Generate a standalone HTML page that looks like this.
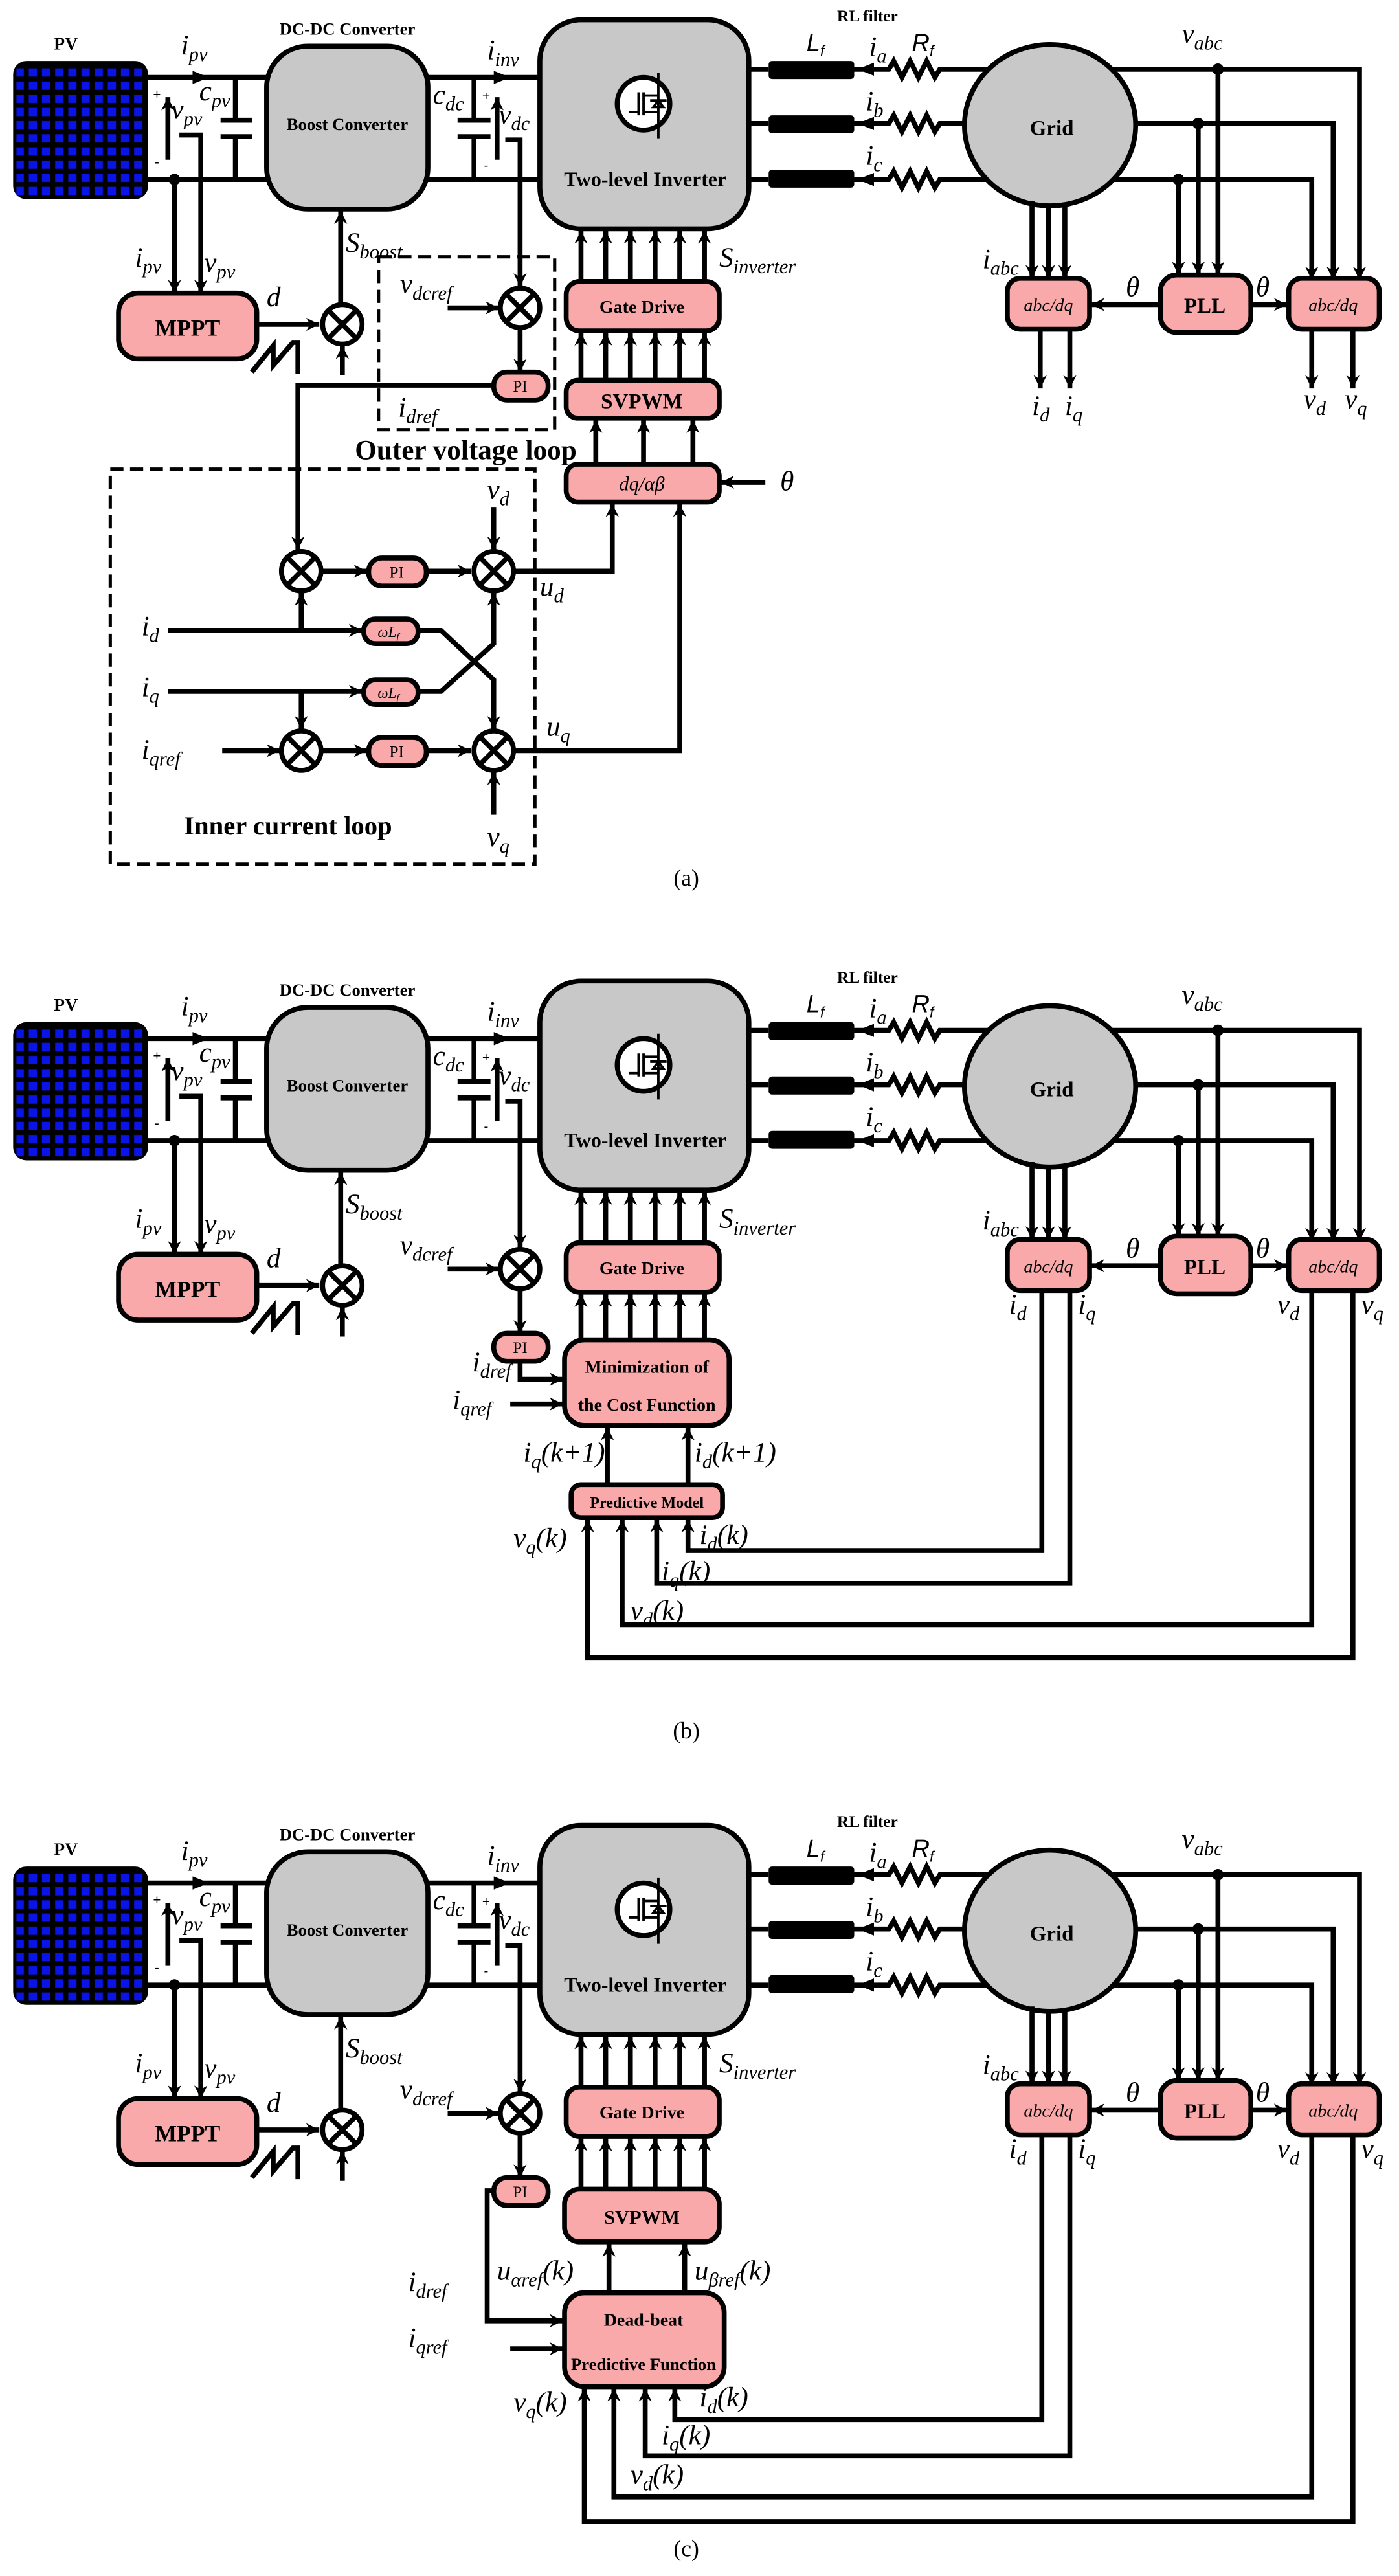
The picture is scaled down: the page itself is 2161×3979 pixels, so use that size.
<!DOCTYPE html>
<html><head><meta charset="utf-8">
<style>
html,body{margin:0;padding:0;background:#fff;}
svg{display:block;}
.w{stroke:#000;stroke-width:3;fill:none;}
.b{font-family:"Liberation Serif",serif;font-weight:bold;fill:#000;}
.m{font-family:"Liberation Serif",serif;font-style:italic;font-size:17px;fill:#000;}
.s{font-size:12px;}
.bx{fill:#f9a9a9;stroke:#000;stroke-width:3;}
.gr{fill:#c8c8c8;stroke:#000;stroke-width:3;}
.c{fill:#fff;stroke:#000;stroke-width:3;}
.sg{font-family:"Liberation Sans",sans-serif;font-size:8px;fill:#000;}
</style></head>
<body>
<svg width="2161" height="3979" viewBox="0 0 850 1565" xmlns="http://www.w3.org/2000/svg">
<defs>
<marker id="ah" viewBox="0 0 10 10" refX="10" refY="5" markerWidth="8" markerHeight="8" markerUnits="userSpaceOnUse" orient="auto"><path d="M0,0 L10,5 L0,10 L3,5 z" fill="#000"/></marker>
<pattern id="pv" width="8" height="8" patternUnits="userSpaceOnUse"><rect x="1.5" y="1.5" width="5" height="5" fill="#0a14e6"/></pattern>
</defs>
<rect width="850" height="1565" fill="#fff"/>

<g id="topA">
<rect x="8" y="37" width="82" height="84" rx="8" fill="#000"/>
<rect x="10" y="39" width="78" height="80" fill="url(#pv)"/>
<text x="40" y="30" class="b" font-size="11" text-anchor="middle">PV</text>
<text x="211" y="21" class="b" font-size="10.5" text-anchor="middle">DC-DC Converter</text>
<text x="527" y="13" class="b" font-size="10" text-anchor="middle">RL filter</text>
<path class="w" d="M90,47H162 M90,109H162 M143,47V73 M143,83V109 M134,73H153 M134,83H153"/>
<polygon points="117,43 127,47 117,51" fill="#000"/>
<text x="110" y="33" class="m">i<tspan class="s" dy="4">pv</tspan></text>
<text x="93" y="60" class="sg" font-size="10">+</text><text x="94" y="101" class="sg" font-size="10">-</text>
<line class="w" x1="102" y1="97" x2="102" y2="59" marker-end="url(#ah)"/>
<text x="104" y="72" class="m">v<tspan class="s" dy="4">pv</tspan></text>
<text x="121" y="61" class="m">c<tspan class="s" dy="4">pv</tspan></text>
<circle cx="106" cy="109" r="3.5" fill="#000"/>
<line class="w" x1="106" y1="109" x2="106" y2="178" marker-end="url(#ah)"/>
<path class="w" d="M109,82H122V178" marker-end="url(#ah)"/>
<text x="82" y="162" class="m">i<tspan class="s" dy="4">pv</tspan></text>
<text x="124" y="165" class="m">v<tspan class="s" dy="4">pv</tspan></text>
<rect x="162" y="28" width="98" height="99" rx="25" class="gr"/>
<text x="211" y="79" class="b" font-size="10.5" text-anchor="middle">Boost Converter</text>
<path class="w" d="M260,47H328 M260,109H328 M288,47V73 M288,83V109 M278,73H298 M278,83H298"/>
<polygon points="300,43 310,47 300,51" fill="#000"/>
<text x="296" y="36" class="m">i<tspan class="s" dy="4">inv</tspan></text>
<text x="263" y="63" class="m">c<tspan class="s" dy="4">dc</tspan></text>
<text x="293" y="61" class="sg" font-size="10">+</text><text x="294" y="103" class="sg" font-size="10">-</text>
<line class="w" x1="302" y1="97" x2="302" y2="59" marker-end="url(#ah)"/>
<text x="303" y="75" class="m">v<tspan class="s" dy="4">dc</tspan></text>
<path class="w" d="M307,85H316V174" marker-end="url(#ah)"/>
<rect x="328" y="12" width="127" height="127" rx="25" class="gr"/>
<circle cx="391" cy="63" r="16" class="c"/>
<path d="M400,44V84 M382,68H388 M388,56V70 M391,56V70 M391,58H400 M391,68H400 M395,61H405 M397,65L400,61L403,65Z" stroke="#000" stroke-width="1.5" fill="none"/>
<text x="392" y="113" class="b" font-size="12.5" text-anchor="middle">Two-level Inverter</text>
<rect x="344" y="171" width="93" height="30" rx="8" class="bx"/>
<text x="390" y="190" class="b" font-size="11" text-anchor="middle">Gate Drive</text>
<g class="w" marker-end="url(#ah)">
<line x1="353" y1="171" x2="353" y2="140"/><line x1="368" y1="171" x2="368" y2="140"/><line x1="383" y1="171" x2="383" y2="140"/><line x1="398" y1="171" x2="398" y2="140"/><line x1="413" y1="171" x2="413" y2="140"/><line x1="428" y1="171" x2="428" y2="140"/>
</g>
<text x="437" y="162" class="m" font-size="19">S<tspan class="s" font-size="13" dy="4">inverter</tspan></text>
<text x="210" y="153" class="m" font-size="19">S<tspan class="s" font-size="13" dy="4">boost</tspan></text>
<line class="w" x1="207" y1="184" x2="207" y2="128" marker-end="url(#ah)"/>
<rect x="72" y="178" width="84" height="40" rx="12" class="bx"/>
<text x="114" y="204" class="b" font-size="14" text-anchor="middle">MPPT</text>
<text x="162" y="186" class="m">d</text>
<line class="w" x1="156" y1="197" x2="194" y2="197" marker-end="url(#ah)"/>
<circle cx="208" cy="197" r="12" class="c"/>
<path d="M200,189L216,205M216,189L200,205" stroke="#000" stroke-width="3"/>
<line class="w" x1="208" y1="228" x2="208" y2="210" marker-end="url(#ah)"/>
<polyline points="153,226 166,210 166,222 178,208 181,208 181,227" stroke="#000" stroke-width="3" fill="none"/>
<text x="243" y="178" class="m">v<tspan class="s" dy="4">dcref</tspan></text>
<line class="w" x1="272" y1="187" x2="303" y2="187" marker-end="url(#ah)"/>
<circle cx="316" cy="187" r="12" class="c"/>
<path d="M308,179L324,195M324,179L308,195" stroke="#000" stroke-width="3"/>
<line class="w" x1="316" y1="200" x2="316" y2="226" marker-end="url(#ah)"/>
<rect x="300" y="226" width="33" height="17" rx="8" class="bx"/>
<text x="316" y="238" font-family="Liberation Serif" font-size="10" text-anchor="middle">PI</text>
<path class="w" d="M455,42H467 M455,75H467 M455,109H467"/>
<rect x="467" y="37" width="52" height="11" rx="2" fill="#000"/><rect x="467" y="70" width="52" height="11" rx="2" fill="#000"/><rect x="467" y="103" width="52" height="11" rx="2" fill="#000"/>
<path class="w" d="M519,42H540l3,-5l5,10l5,-10l5,10l5,-10l5,10l3,-5H601 M519,75H540l3,-5l5,10l5,-10l5,10l5,-10l5,10l3,-5H588 M519,109H540l3,-5l5,10l5,-10l5,10l5,-10l5,10l3,-5H601" stroke-width="2.5"/>
<polygon points="521,42 531,38 531,46" fill="#000"/><polygon points="521,75 531,71 531,79" fill="#000"/><polygon points="521,109 531,105 531,113" fill="#000"/>
<text x="490" y="31" font-family="Liberation Sans" font-style="italic" font-size="15">L<tspan font-size="9" dy="3">f</tspan></text>
<text x="528" y="34" class="m">i<tspan class="s" dy="4">a</tspan></text>
<text x="554" y="31" font-family="Liberation Sans" font-style="italic" font-size="15">R<tspan font-size="9" dy="3">f</tspan></text>
<text x="526" y="67" class="m">i<tspan class="s" dy="4">b</tspan></text>
<text x="526" y="100" class="m">i<tspan class="s" dy="4">c</tspan></text>
<ellipse cx="638" cy="76" rx="52" ry="49" class="gr"/>
<text x="639" y="82" class="b" font-size="13" text-anchor="middle">Grid</text>
<text x="718" y="26" class="m" font-size="18">v<tspan class="s" font-size="13" dy="4">abc</tspan></text>
<path class="w" d="M676,42H826V170" marker-end="url(#ah)"/>
<path class="w" d="M690,75H810V170" marker-end="url(#ah)"/>
<path class="w" d="M676,109H797V170" marker-end="url(#ah)"/>
<circle cx="740" cy="42" r="3.5"/><circle cx="728" cy="75" r="3.5"/><circle cx="716" cy="109" r="3.5"/>
<g class="w" marker-end="url(#ah)">
<line x1="740" y1="42" x2="740" y2="167"/><line x1="728" y1="75" x2="728" y2="167"/><line x1="716" y1="109" x2="716" y2="167"/>
<line x1="627" y1="122" x2="627" y2="169"/><line x1="637" y1="125" x2="637" y2="169"/><line x1="647" y1="123" x2="647" y2="169"/>
<line x1="705" y1="185" x2="663" y2="185"/><line x1="760" y1="185" x2="782" y2="185"/>
</g>
<text x="597" y="163" class="m">i<tspan class="s" dy="4">abc</tspan></text>
<rect x="705" y="167" width="55" height="35" rx="10" class="bx"/>
<text x="732" y="190" class="b" font-size="13" text-anchor="middle">PLL</text>
<rect x="612" y="169" width="50" height="31" rx="8" class="bx"/>
<text x="637" y="189" font-family="Liberation Serif" font-style="italic" font-size="11" text-anchor="middle">abc/dq</text>
<rect x="783" y="169" width="55" height="31" rx="8" class="bx"/>
<text x="810" y="189" font-family="Liberation Serif" font-style="italic" font-size="11" text-anchor="middle">abc/dq</text>
<text x="684" y="180" class="m" font-size="15">θ</text>
<text x="763" y="180" class="m" font-size="15">θ</text>
</g>

<g>
<g class="w" marker-end="url(#ah)">
<line x1="632" y1="200" x2="632" y2="236"/><line x1="650" y1="200" x2="650" y2="236"/>
<line x1="797" y1="200" x2="797" y2="236"/><line x1="822" y1="200" x2="822" y2="236"/>
</g>
<text x="627" y="252" class="m">i<tspan class="s" dy="4">d</tspan></text>
<text x="647" y="252" class="m">i<tspan class="s" dy="4">q</tspan></text>
<text x="792" y="248" class="m">v<tspan class="s" dy="4">d</tspan></text>
<text x="817" y="248" class="m">v<tspan class="s" dy="4">q</tspan></text>
<rect x="230" y="156" width="107" height="105" fill="none" stroke="#000" stroke-width="2" stroke-dasharray="8,4"/>
<text x="283" y="279" class="b" font-size="17" text-anchor="middle">Outer voltage loop</text>
<text x="242" y="253" class="m">i<tspan class="s" dy="4">dref</tspan></text>
<rect x="344" y="231" width="93" height="23" rx="7" class="bx"/>
<text x="390" y="248" class="b" font-size="13" text-anchor="middle">SVPWM</text>
<rect x="344" y="282" width="93" height="23" rx="7" class="bx"/>
<text x="390" y="298" font-family="Liberation Serif" font-style="italic" font-size="12" text-anchor="middle">dq/αβ</text>
<g class="w" marker-end="url(#ah)">
<line x1="353" y1="231" x2="353" y2="202"/><line x1="368" y1="231" x2="368" y2="202"/><line x1="383" y1="231" x2="383" y2="202"/><line x1="398" y1="231" x2="398" y2="202"/><line x1="413" y1="231" x2="413" y2="202"/><line x1="428" y1="231" x2="428" y2="202"/>
<line x1="362" y1="282" x2="362" y2="255"/><line x1="391" y1="282" x2="391" y2="255"/><line x1="421" y1="282" x2="421" y2="255"/>
<line x1="465" y1="293" x2="438" y2="293"/>
</g>
<text x="474" y="298" class="m" font-size="15">θ</text>
<rect x="67" y="285" width="258" height="240" fill="none" stroke="#000" stroke-width="2" stroke-dasharray="8,4"/>
<g class="w" marker-end="url(#ah)">
<path d="M300,234H181V334"/>
<line x1="196" y1="347" x2="223" y2="347"/><line x1="259" y1="347" x2="286" y2="347"/>
<path d="M313,347H372V306"/>
<line x1="300" y1="308" x2="300" y2="334"/>
<line x1="102" y1="383" x2="220" y2="383"/><line x1="183" y1="383" x2="183" y2="360"/>
<line x1="102" y1="420" x2="220" y2="420"/><line x1="183" y1="420" x2="183" y2="443"/>
<path d="M254,383H268L300,413V443"/><path d="M254,420H268L300,391V360"/>
<line x1="135" y1="456" x2="170" y2="456"/>
<line x1="196" y1="456" x2="223" y2="456"/><line x1="259" y1="456" x2="286" y2="456"/>
<path d="M313,456H413V306"/>
<line x1="300" y1="495" x2="300" y2="469"/>
</g>
<g>
<circle cx="183" cy="347" r="12" class="c"/><path d="M175,339L191,355M191,339L175,355" stroke="#000" stroke-width="3"/>
<circle cx="300" cy="347" r="12" class="c"/><path d="M292,339L308,355M308,339L292,355" stroke="#000" stroke-width="3"/>
<circle cx="183" cy="456" r="12" class="c"/><path d="M175,448L191,464M191,448L175,464" stroke="#000" stroke-width="3"/>
<circle cx="300" cy="456" r="12" class="c"/><path d="M292,448L308,464M308,448L292,464" stroke="#000" stroke-width="3"/>
</g>
<rect x="224" y="339" width="35" height="17" rx="8" class="bx"/><text x="241" y="351" font-family="Liberation Serif" font-size="10" text-anchor="middle">PI</text>
<rect x="224" y="448" width="35" height="17" rx="8" class="bx"/><text x="241" y="460" font-family="Liberation Serif" font-size="10" text-anchor="middle">PI</text>
<rect x="221" y="376" width="33" height="15" rx="7" class="bx"/><text x="236" y="387" font-family="Liberation Serif" font-style="italic" font-size="9" text-anchor="middle">ωL<tspan font-size="6" dy="2">f</tspan></text>
<rect x="221" y="413" width="33" height="15" rx="7" class="bx"/><text x="236" y="424" font-family="Liberation Serif" font-style="italic" font-size="9" text-anchor="middle">ωL<tspan font-size="6" dy="2">f</tspan></text>
<text x="296" y="303" class="m">v<tspan class="s" dy="4">d</tspan></text>
<text x="86" y="386" class="m">i<tspan class="s" dy="4">d</tspan></text>
<text x="86" y="423" class="m">i<tspan class="s" dy="4">q</tspan></text>
<text x="86" y="461" class="m">i<tspan class="s" dy="4">qref</tspan></text>
<text x="296" y="514" class="m">v<tspan class="s" dy="4">q</tspan></text>
<text x="328" y="362" class="m">u<tspan class="s" dy="4">d</tspan></text>
<text x="332" y="447" class="m">u<tspan class="s" dy="4">q</tspan></text>
<text x="175" y="507" class="b" font-size="16" text-anchor="middle">Inner current loop</text>
<text x="417" y="538" font-family="Liberation Serif" font-size="14" text-anchor="middle">(a)</text>
</g>

<g transform="translate(0,584)">
<rect x="8" y="37" width="82" height="84" rx="8" fill="#000"/>
<rect x="10" y="39" width="78" height="80" fill="url(#pv)"/>
<text x="40" y="30" class="b" font-size="11" text-anchor="middle">PV</text>
<text x="211" y="21" class="b" font-size="10.5" text-anchor="middle">DC-DC Converter</text>
<text x="527" y="13" class="b" font-size="10" text-anchor="middle">RL filter</text>
<path class="w" d="M90,47H162 M90,109H162 M143,47V73 M143,83V109 M134,73H153 M134,83H153"/>
<polygon points="117,43 127,47 117,51" fill="#000"/>
<text x="110" y="33" class="m">i<tspan class="s" dy="4">pv</tspan></text>
<text x="93" y="60" class="sg" font-size="10">+</text><text x="94" y="101" class="sg" font-size="10">-</text>
<line class="w" x1="102" y1="97" x2="102" y2="59" marker-end="url(#ah)"/>
<text x="104" y="72" class="m">v<tspan class="s" dy="4">pv</tspan></text>
<text x="121" y="61" class="m">c<tspan class="s" dy="4">pv</tspan></text>
<circle cx="106" cy="109" r="3.5" fill="#000"/>
<line class="w" x1="106" y1="109" x2="106" y2="178" marker-end="url(#ah)"/>
<path class="w" d="M109,82H122V178" marker-end="url(#ah)"/>
<text x="82" y="162" class="m">i<tspan class="s" dy="4">pv</tspan></text>
<text x="124" y="165" class="m">v<tspan class="s" dy="4">pv</tspan></text>
<rect x="162" y="28" width="98" height="99" rx="25" class="gr"/>
<text x="211" y="79" class="b" font-size="10.5" text-anchor="middle">Boost Converter</text>
<path class="w" d="M260,47H328 M260,109H328 M288,47V73 M288,83V109 M278,73H298 M278,83H298"/>
<polygon points="300,43 310,47 300,51" fill="#000"/>
<text x="296" y="36" class="m">i<tspan class="s" dy="4">inv</tspan></text>
<text x="263" y="63" class="m">c<tspan class="s" dy="4">dc</tspan></text>
<text x="293" y="61" class="sg" font-size="10">+</text><text x="294" y="103" class="sg" font-size="10">-</text>
<line class="w" x1="302" y1="97" x2="302" y2="59" marker-end="url(#ah)"/>
<text x="303" y="75" class="m">v<tspan class="s" dy="4">dc</tspan></text>
<path class="w" d="M307,85H316V174" marker-end="url(#ah)"/>
<rect x="328" y="12" width="127" height="127" rx="25" class="gr"/>
<circle cx="391" cy="63" r="16" class="c"/>
<path d="M400,44V84 M382,68H388 M388,56V70 M391,56V70 M391,58H400 M391,68H400 M395,61H405 M397,65L400,61L403,65Z" stroke="#000" stroke-width="1.5" fill="none"/>
<text x="392" y="113" class="b" font-size="12.5" text-anchor="middle">Two-level Inverter</text>
<rect x="344" y="171" width="93" height="30" rx="8" class="bx"/>
<text x="390" y="190" class="b" font-size="11" text-anchor="middle">Gate Drive</text>
<g class="w" marker-end="url(#ah)">
<line x1="353" y1="171" x2="353" y2="140"/><line x1="368" y1="171" x2="368" y2="140"/><line x1="383" y1="171" x2="383" y2="140"/><line x1="398" y1="171" x2="398" y2="140"/><line x1="413" y1="171" x2="413" y2="140"/><line x1="428" y1="171" x2="428" y2="140"/>
</g>
<text x="437" y="162" class="m" font-size="19">S<tspan class="s" font-size="13" dy="4">inverter</tspan></text>
<text x="210" y="153" class="m" font-size="19">S<tspan class="s" font-size="13" dy="4">boost</tspan></text>
<line class="w" x1="207" y1="184" x2="207" y2="128" marker-end="url(#ah)"/>
<rect x="72" y="178" width="84" height="40" rx="12" class="bx"/>
<text x="114" y="204" class="b" font-size="14" text-anchor="middle">MPPT</text>
<text x="162" y="186" class="m">d</text>
<line class="w" x1="156" y1="197" x2="194" y2="197" marker-end="url(#ah)"/>
<circle cx="208" cy="197" r="12" class="c"/>
<path d="M200,189L216,205M216,189L200,205" stroke="#000" stroke-width="3"/>
<line class="w" x1="208" y1="228" x2="208" y2="210" marker-end="url(#ah)"/>
<polyline points="153,226 166,210 166,222 178,208 181,208 181,227" stroke="#000" stroke-width="3" fill="none"/>
<text x="243" y="178" class="m">v<tspan class="s" dy="4">dcref</tspan></text>
<line class="w" x1="272" y1="187" x2="303" y2="187" marker-end="url(#ah)"/>
<circle cx="316" cy="187" r="12" class="c"/>
<path d="M308,179L324,195M324,179L308,195" stroke="#000" stroke-width="3"/>
<line class="w" x1="316" y1="200" x2="316" y2="226" marker-end="url(#ah)"/>
<rect x="300" y="226" width="33" height="17" rx="8" class="bx"/>
<text x="316" y="238" font-family="Liberation Serif" font-size="10" text-anchor="middle">PI</text>
<path class="w" d="M455,42H467 M455,75H467 M455,109H467"/>
<rect x="467" y="37" width="52" height="11" rx="2" fill="#000"/><rect x="467" y="70" width="52" height="11" rx="2" fill="#000"/><rect x="467" y="103" width="52" height="11" rx="2" fill="#000"/>
<path class="w" d="M519,42H540l3,-5l5,10l5,-10l5,10l5,-10l5,10l3,-5H601 M519,75H540l3,-5l5,10l5,-10l5,10l5,-10l5,10l3,-5H588 M519,109H540l3,-5l5,10l5,-10l5,10l5,-10l5,10l3,-5H601" stroke-width="2.5"/>
<polygon points="521,42 531,38 531,46" fill="#000"/><polygon points="521,75 531,71 531,79" fill="#000"/><polygon points="521,109 531,105 531,113" fill="#000"/>
<text x="490" y="31" font-family="Liberation Sans" font-style="italic" font-size="15">L<tspan font-size="9" dy="3">f</tspan></text>
<text x="528" y="34" class="m">i<tspan class="s" dy="4">a</tspan></text>
<text x="554" y="31" font-family="Liberation Sans" font-style="italic" font-size="15">R<tspan font-size="9" dy="3">f</tspan></text>
<text x="526" y="67" class="m">i<tspan class="s" dy="4">b</tspan></text>
<text x="526" y="100" class="m">i<tspan class="s" dy="4">c</tspan></text>
<ellipse cx="638" cy="76" rx="52" ry="49" class="gr"/>
<text x="639" y="82" class="b" font-size="13" text-anchor="middle">Grid</text>
<text x="718" y="26" class="m" font-size="18">v<tspan class="s" font-size="13" dy="4">abc</tspan></text>
<path class="w" d="M676,42H826V170" marker-end="url(#ah)"/>
<path class="w" d="M690,75H810V170" marker-end="url(#ah)"/>
<path class="w" d="M676,109H797V170" marker-end="url(#ah)"/>
<circle cx="740" cy="42" r="3.5"/><circle cx="728" cy="75" r="3.5"/><circle cx="716" cy="109" r="3.5"/>
<g class="w" marker-end="url(#ah)">
<line x1="740" y1="42" x2="740" y2="167"/><line x1="728" y1="75" x2="728" y2="167"/><line x1="716" y1="109" x2="716" y2="167"/>
<line x1="627" y1="122" x2="627" y2="169"/><line x1="637" y1="125" x2="637" y2="169"/><line x1="647" y1="123" x2="647" y2="169"/>
<line x1="705" y1="185" x2="663" y2="185"/><line x1="760" y1="185" x2="782" y2="185"/>
</g>
<text x="597" y="163" class="m">i<tspan class="s" dy="4">abc</tspan></text>
<rect x="705" y="167" width="55" height="35" rx="10" class="bx"/>
<text x="732" y="190" class="b" font-size="13" text-anchor="middle">PLL</text>
<rect x="612" y="169" width="50" height="31" rx="8" class="bx"/>
<text x="637" y="189" font-family="Liberation Serif" font-style="italic" font-size="11" text-anchor="middle">abc/dq</text>
<rect x="783" y="169" width="55" height="31" rx="8" class="bx"/>
<text x="810" y="189" font-family="Liberation Serif" font-style="italic" font-size="11" text-anchor="middle">abc/dq</text>
<text x="684" y="180" class="m" font-size="15">θ</text>
<text x="763" y="180" class="m" font-size="15">θ</text>
<text x="613" y="214" class="m">i<tspan class="s" dy="4">d</tspan></text>
<text x="655" y="214" class="m">i<tspan class="s" dy="4">q</tspan></text>
<text x="776" y="214" class="m">v<tspan class="s" dy="4">d</tspan></text>
<text x="827" y="214" class="m">v<tspan class="s" dy="4">q</tspan></text>
</g>
<g>
<rect x="343" y="814" width="100" height="52" rx="12" class="bx"/>
<text x="393" y="834" class="b" font-size="11" text-anchor="middle">Minimization of</text>
<text x="393" y="857" class="b" font-size="11" text-anchor="middle">the Cost Function</text>
<rect x="347" y="902" width="92" height="20" rx="6" class="bx"/>
<text x="393" y="916" class="b" font-size="9.5" text-anchor="middle">Predictive Model</text>
<g class="w" marker-end="url(#ah)">
<line x1="353" y1="814" x2="353" y2="786"/><line x1="368" y1="814" x2="368" y2="786"/><line x1="383" y1="814" x2="383" y2="786"/><line x1="398" y1="814" x2="398" y2="786"/><line x1="413" y1="814" x2="413" y2="786"/><line x1="428" y1="814" x2="428" y2="786"/>
<path d="M316,827V838H342"/>
<line x1="310" y1="853" x2="342" y2="853"/>
<line x1="369" y1="902" x2="369" y2="867"/><line x1="418" y1="902" x2="418" y2="867"/>
<path d="M633,784V942H418V923"/>
<path d="M650,784V962H399V923"/>
<path d="M797,784V987H378V923"/>
<path d="M822,784V1007H357V923"/>
</g>
<text x="287" y="833" class="m">i<tspan class="s" dy="4">dref</tspan></text>
<text x="275" y="856" class="m">i<tspan class="s" dy="4">qref</tspan></text>
<text x="318" y="888" class="m">i<tspan class="s" dy="4">q</tspan><tspan dy="-4">(k+1)</tspan></text>
<text x="422" y="888" class="m">i<tspan class="s" dy="4">d</tspan><tspan dy="-4">(k+1)</tspan></text>
<text x="312" y="940" class="m">v<tspan class="s" dy="4">q</tspan><tspan dy="-4">(k)</tspan></text>
<text x="425" y="938" class="m">i<tspan class="s" dy="4">d</tspan><tspan dy="-4">(k)</tspan></text>
<text x="402" y="960" class="m" font-size="14">i<tspan class="s" dy="4">q</tspan><tspan dy="-4">(k)</tspan></text>
<text x="383" y="984" class="m">v<tspan class="s" dy="4">d</tspan><tspan dy="-4">(k)</tspan></text>
<text x="417" y="1056" font-family="Liberation Serif" font-size="14" text-anchor="middle">(b)</text>
</g>

<g transform="translate(0,1097)">
<rect x="8" y="37" width="82" height="84" rx="8" fill="#000"/>
<rect x="10" y="39" width="78" height="80" fill="url(#pv)"/>
<text x="40" y="30" class="b" font-size="11" text-anchor="middle">PV</text>
<text x="211" y="21" class="b" font-size="10.5" text-anchor="middle">DC-DC Converter</text>
<text x="527" y="13" class="b" font-size="10" text-anchor="middle">RL filter</text>
<path class="w" d="M90,47H162 M90,109H162 M143,47V73 M143,83V109 M134,73H153 M134,83H153"/>
<polygon points="117,43 127,47 117,51" fill="#000"/>
<text x="110" y="33" class="m">i<tspan class="s" dy="4">pv</tspan></text>
<text x="93" y="60" class="sg" font-size="10">+</text><text x="94" y="101" class="sg" font-size="10">-</text>
<line class="w" x1="102" y1="97" x2="102" y2="59" marker-end="url(#ah)"/>
<text x="104" y="72" class="m">v<tspan class="s" dy="4">pv</tspan></text>
<text x="121" y="61" class="m">c<tspan class="s" dy="4">pv</tspan></text>
<circle cx="106" cy="109" r="3.5" fill="#000"/>
<line class="w" x1="106" y1="109" x2="106" y2="178" marker-end="url(#ah)"/>
<path class="w" d="M109,82H122V178" marker-end="url(#ah)"/>
<text x="82" y="162" class="m">i<tspan class="s" dy="4">pv</tspan></text>
<text x="124" y="165" class="m">v<tspan class="s" dy="4">pv</tspan></text>
<rect x="162" y="28" width="98" height="99" rx="25" class="gr"/>
<text x="211" y="79" class="b" font-size="10.5" text-anchor="middle">Boost Converter</text>
<path class="w" d="M260,47H328 M260,109H328 M288,47V73 M288,83V109 M278,73H298 M278,83H298"/>
<polygon points="300,43 310,47 300,51" fill="#000"/>
<text x="296" y="36" class="m">i<tspan class="s" dy="4">inv</tspan></text>
<text x="263" y="63" class="m">c<tspan class="s" dy="4">dc</tspan></text>
<text x="293" y="61" class="sg" font-size="10">+</text><text x="294" y="103" class="sg" font-size="10">-</text>
<line class="w" x1="302" y1="97" x2="302" y2="59" marker-end="url(#ah)"/>
<text x="303" y="75" class="m">v<tspan class="s" dy="4">dc</tspan></text>
<path class="w" d="M307,85H316V174" marker-end="url(#ah)"/>
<rect x="328" y="12" width="127" height="127" rx="25" class="gr"/>
<circle cx="391" cy="63" r="16" class="c"/>
<path d="M400,44V84 M382,68H388 M388,56V70 M391,56V70 M391,58H400 M391,68H400 M395,61H405 M397,65L400,61L403,65Z" stroke="#000" stroke-width="1.5" fill="none"/>
<text x="392" y="113" class="b" font-size="12.5" text-anchor="middle">Two-level Inverter</text>
<rect x="344" y="171" width="93" height="30" rx="8" class="bx"/>
<text x="390" y="190" class="b" font-size="11" text-anchor="middle">Gate Drive</text>
<g class="w" marker-end="url(#ah)">
<line x1="353" y1="171" x2="353" y2="140"/><line x1="368" y1="171" x2="368" y2="140"/><line x1="383" y1="171" x2="383" y2="140"/><line x1="398" y1="171" x2="398" y2="140"/><line x1="413" y1="171" x2="413" y2="140"/><line x1="428" y1="171" x2="428" y2="140"/>
</g>
<text x="437" y="162" class="m" font-size="19">S<tspan class="s" font-size="13" dy="4">inverter</tspan></text>
<text x="210" y="153" class="m" font-size="19">S<tspan class="s" font-size="13" dy="4">boost</tspan></text>
<line class="w" x1="207" y1="184" x2="207" y2="128" marker-end="url(#ah)"/>
<rect x="72" y="178" width="84" height="40" rx="12" class="bx"/>
<text x="114" y="204" class="b" font-size="14" text-anchor="middle">MPPT</text>
<text x="162" y="186" class="m">d</text>
<line class="w" x1="156" y1="197" x2="194" y2="197" marker-end="url(#ah)"/>
<circle cx="208" cy="197" r="12" class="c"/>
<path d="M200,189L216,205M216,189L200,205" stroke="#000" stroke-width="3"/>
<line class="w" x1="208" y1="228" x2="208" y2="210" marker-end="url(#ah)"/>
<polyline points="153,226 166,210 166,222 178,208 181,208 181,227" stroke="#000" stroke-width="3" fill="none"/>
<text x="243" y="178" class="m">v<tspan class="s" dy="4">dcref</tspan></text>
<line class="w" x1="272" y1="187" x2="303" y2="187" marker-end="url(#ah)"/>
<circle cx="316" cy="187" r="12" class="c"/>
<path d="M308,179L324,195M324,179L308,195" stroke="#000" stroke-width="3"/>
<line class="w" x1="316" y1="200" x2="316" y2="226" marker-end="url(#ah)"/>
<rect x="300" y="226" width="33" height="17" rx="8" class="bx"/>
<text x="316" y="238" font-family="Liberation Serif" font-size="10" text-anchor="middle">PI</text>
<path class="w" d="M455,42H467 M455,75H467 M455,109H467"/>
<rect x="467" y="37" width="52" height="11" rx="2" fill="#000"/><rect x="467" y="70" width="52" height="11" rx="2" fill="#000"/><rect x="467" y="103" width="52" height="11" rx="2" fill="#000"/>
<path class="w" d="M519,42H540l3,-5l5,10l5,-10l5,10l5,-10l5,10l3,-5H601 M519,75H540l3,-5l5,10l5,-10l5,10l5,-10l5,10l3,-5H588 M519,109H540l3,-5l5,10l5,-10l5,10l5,-10l5,10l3,-5H601" stroke-width="2.5"/>
<polygon points="521,42 531,38 531,46" fill="#000"/><polygon points="521,75 531,71 531,79" fill="#000"/><polygon points="521,109 531,105 531,113" fill="#000"/>
<text x="490" y="31" font-family="Liberation Sans" font-style="italic" font-size="15">L<tspan font-size="9" dy="3">f</tspan></text>
<text x="528" y="34" class="m">i<tspan class="s" dy="4">a</tspan></text>
<text x="554" y="31" font-family="Liberation Sans" font-style="italic" font-size="15">R<tspan font-size="9" dy="3">f</tspan></text>
<text x="526" y="67" class="m">i<tspan class="s" dy="4">b</tspan></text>
<text x="526" y="100" class="m">i<tspan class="s" dy="4">c</tspan></text>
<ellipse cx="638" cy="76" rx="52" ry="49" class="gr"/>
<text x="639" y="82" class="b" font-size="13" text-anchor="middle">Grid</text>
<text x="718" y="26" class="m" font-size="18">v<tspan class="s" font-size="13" dy="4">abc</tspan></text>
<path class="w" d="M676,42H826V170" marker-end="url(#ah)"/>
<path class="w" d="M690,75H810V170" marker-end="url(#ah)"/>
<path class="w" d="M676,109H797V170" marker-end="url(#ah)"/>
<circle cx="740" cy="42" r="3.5"/><circle cx="728" cy="75" r="3.5"/><circle cx="716" cy="109" r="3.5"/>
<g class="w" marker-end="url(#ah)">
<line x1="740" y1="42" x2="740" y2="167"/><line x1="728" y1="75" x2="728" y2="167"/><line x1="716" y1="109" x2="716" y2="167"/>
<line x1="627" y1="122" x2="627" y2="169"/><line x1="637" y1="125" x2="637" y2="169"/><line x1="647" y1="123" x2="647" y2="169"/>
<line x1="705" y1="185" x2="663" y2="185"/><line x1="760" y1="185" x2="782" y2="185"/>
</g>
<text x="597" y="163" class="m">i<tspan class="s" dy="4">abc</tspan></text>
<rect x="705" y="167" width="55" height="35" rx="10" class="bx"/>
<text x="732" y="190" class="b" font-size="13" text-anchor="middle">PLL</text>
<rect x="612" y="169" width="50" height="31" rx="8" class="bx"/>
<text x="637" y="189" font-family="Liberation Serif" font-style="italic" font-size="11" text-anchor="middle">abc/dq</text>
<rect x="783" y="169" width="55" height="31" rx="8" class="bx"/>
<text x="810" y="189" font-family="Liberation Serif" font-style="italic" font-size="11" text-anchor="middle">abc/dq</text>
<text x="684" y="180" class="m" font-size="15">θ</text>
<text x="763" y="180" class="m" font-size="15">θ</text>
<text x="613" y="214" class="m">i<tspan class="s" dy="4">d</tspan></text>
<text x="655" y="214" class="m">i<tspan class="s" dy="4">q</tspan></text>
<text x="776" y="214" class="m">v<tspan class="s" dy="4">d</tspan></text>
<text x="827" y="214" class="m">v<tspan class="s" dy="4">q</tspan></text>
</g>
<g>
<rect x="343" y="1330" width="94" height="32" rx="9" class="bx"/>
<text x="390" y="1351" class="b" font-size="12" text-anchor="middle">SVPWM</text>
<rect x="343" y="1393" width="97" height="57" rx="12" class="bx"/>
<text x="391" y="1413" class="b" font-size="11" text-anchor="middle">Dead-beat</text>
<text x="391" y="1440" class="b" font-size="10.5" text-anchor="middle">Predictive Function</text>
<g class="w" marker-end="url(#ah)">
<line x1="353" y1="1330" x2="353" y2="1299"/><line x1="368" y1="1330" x2="368" y2="1299"/><line x1="383" y1="1330" x2="383" y2="1299"/><line x1="398" y1="1330" x2="398" y2="1299"/><line x1="413" y1="1330" x2="413" y2="1299"/><line x1="428" y1="1330" x2="428" y2="1299"/>
<line x1="370" y1="1393" x2="370" y2="1363"/><line x1="416" y1="1393" x2="416" y2="1363"/>
<path d="M300,1331H296V1410H342"/>
<line x1="310" y1="1427" x2="342" y2="1427"/>
<path d="M633,1297V1470H410V1451"/>
<path d="M650,1297V1492H392V1451"/>
<path d="M797,1297V1517H373V1451"/>
<path d="M822,1297V1532H355V1451"/>
</g>
<text x="302" y="1385" class="m">u<tspan class="s" dy="4">αref</tspan><tspan dy="-4">(k)</tspan></text>
<text x="422" y="1385" class="m">u<tspan class="s" dy="4">βref</tspan><tspan dy="-4">(k)</tspan></text>
<text x="248" y="1392" class="m">i<tspan class="s" dy="4">dref</tspan></text>
<text x="248" y="1426" class="m">i<tspan class="s" dy="4">qref</tspan></text>
<text x="312" y="1465" class="m">v<tspan class="s" dy="4">q</tspan><tspan dy="-4">(k)</tspan></text>
<text x="425" y="1462" class="m">i<tspan class="s" dy="4">d</tspan><tspan dy="-4">(k)</tspan></text>
<text x="402" y="1485" class="m" font-size="14">i<tspan class="s" dy="4">q</tspan><tspan dy="-4">(k)</tspan></text>
<text x="383" y="1509" class="m">v<tspan class="s" dy="4">d</tspan><tspan dy="-4">(k)</tspan></text>
<text x="417" y="1553" font-family="Liberation Serif" font-size="14" text-anchor="middle">(c)</text>
</g>
</svg>
</body></html>
